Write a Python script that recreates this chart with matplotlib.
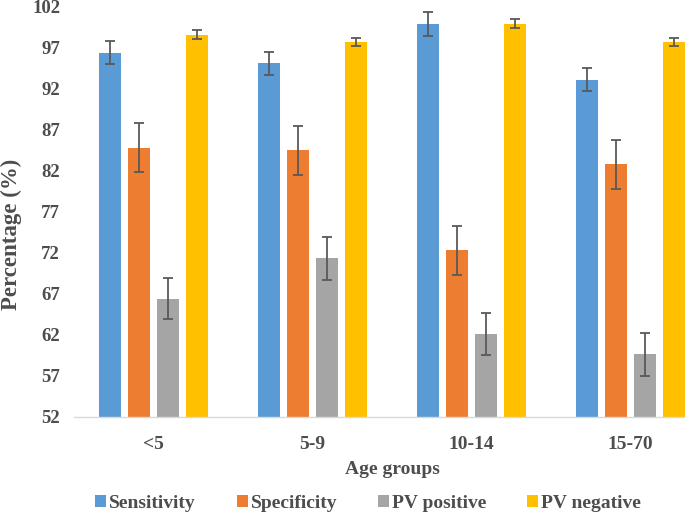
import numpy as np
import matplotlib.pyplot as plt

# Age group categories and the four measures (percent) with error bar half-widths
age_groups = ['<5', '5-9', '10-14', '15-70']
series_names = ['Sensitivity', 'Specificity', 'PV positive', 'PV negative']

sensitivity = [96.4, 95.1, 99.9, 93.1]
specificity = [84.8, 84.5, 72.3, 82.8]
pv_positive = [66.4, 71.3, 62.1, 59.6]
pv_negative = [98.6, 97.7, 99.9, 97.7]

sensitivity_err = [1.4, 1.4, 1.45, 1.4]
specificity_err = [3.0, 3.0, 3.0, 3.0]
pv_positive_err = [2.5, 2.6, 2.6, 2.6]
pv_negative_err = [0.55, 0.5, 0.55, 0.5]

y_ticks = [52, 57, 62, 67, 72, 77, 82, 87, 92, 97, 102]

colors = ['#5B9BD5', '#ED7D31', '#A5A5A5', '#FFC000']
text_color = '#4D4D4D'

plt.rcParams['font.family'] = ['Liberation Serif', 'DejaVu Serif']
plt.rcParams['font.weight'] = 'bold'
plt.rcParams['text.color'] = text_color
plt.rcParams['xtick.labelcolor'] = text_color
plt.rcParams['ytick.labelcolor'] = text_color

fig = plt.figure(figsize=(6.85, 5.18), dpi=100)
# axes area runs a little past the right edge, like the cropped original
ax = fig.add_axes([74 / 685, 101.3 / 518, 636 / 685, 410 / 518])

values = [sensitivity, specificity, pv_positive, pv_negative]
errors = [sensitivity_err, specificity_err, pv_positive_err, pv_negative_err]

x = np.arange(len(age_groups))
pitch = 0.182
width = 0.1415
for i, (vals, errs) in enumerate(zip(values, errors)):
    offs = (i - 1.5) * pitch
    ax.bar(x + offs, np.array(vals) - 52, width, bottom=52, color=colors[i],
           label=series_names[i], zorder=2)
    ax.errorbar(x + offs, vals, yerr=errs, fmt='none', ecolor='#595959',
                elinewidth=1.3, capsize=3.5, capthick=1.3, zorder=3)

ax.set_xlim(-0.5, 3.5)
ax.set_ylim(52, 102)
ax.set_yticks(y_ticks)
ax.set_xticks(x)
ax.set_xticklabels(age_groups, fontsize=14)
ax.tick_params(axis='y', labelsize=13.5)
ax.tick_params(axis='both', length=0)
ax.tick_params(axis='x', pad=14)
ax.tick_params(axis='y', pad=10)

for s in ['top', 'right', 'left']:
    ax.spines[s].set_visible(False)
ax.spines['bottom'].set_color('#D9D9D9')
ax.spines['bottom'].set_linewidth(1.0)

ax.set_xlabel('Age groups', fontsize=14, fontweight='bold', labelpad=6,
              color=text_color)
fig.text(11 / 685, 1 - 234 / 518, 'Percentage (%)', rotation=90,
         fontsize=16.5, fontweight='bold', ha='center', va='center',
         color=text_color)

fig.legend(loc='center', bbox_to_anchor=(368 / 685, 1 - 503 / 518), ncol=4,
           frameon=False, fontsize=14, handlelength=0.57, handleheight=0.57,
           handletextpad=0.15, columnspacing=2.1, labelcolor=text_color)

fig.savefig('out.png', dpi=100)
